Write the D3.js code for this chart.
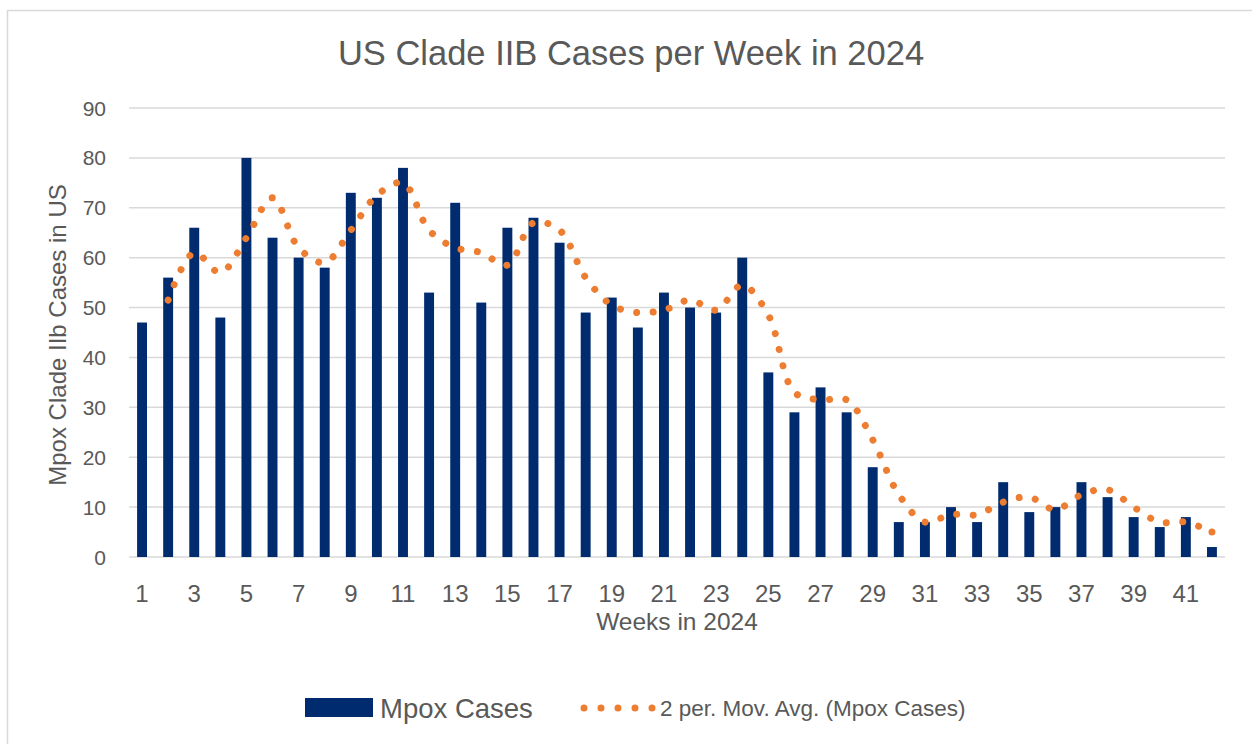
<!DOCTYPE html>
<html>
<head>
<meta charset="utf-8">
<script src="https://cdn.jsdelivr.net/npm/d3@7"></script>
<style>
  html, body { margin: 0; padding: 0; background: #fff; }
  svg { display: block; font-family: "Liberation Sans", Arial, sans-serif; }
</style>
</head>
<body>
<svg id="chart" width="1252" height="744"></svg>
<script>
// weekly counts
var weeks = d3.range(1, 43);
var cases = [47, 56, 66, 48, 80, 64, 60, 58, 73, 72, 78, 53, 71, 51, 66, 68, 63, 49, 52, 46,
             53, 50, 49, 60, 37, 29, 34, 29, 18, 7, 7, 10, 7, 15, 9, 10, 15, 12, 8, 6, 8, 2];
var yTicks = [0, 10, 20, 30, 40, 50, 60, 70, 80, 90];
var xTickLabels = weeks.filter(function (w) { return w % 2 === 1; });

var titleText = "US Clade IIB Cases per Week in 2024";
var xTitle = "Weeks in 2024";
var yTitle = "Mpox Clade IIb Cases in US";
var barLabel = "Mpox Cases";
var trendLabel = "2 per. Mov. Avg. (Mpox Cases)";

var BLUE = "#002c6f", ORANGE = "#ed7d31", GRID = "#d9d9d9", TEXT = "#595959";

var svg = d3.select("#chart");

// chart area border (left/top visible, rest runs off the window)
svg.append("rect")
    .attr("x", 7.5).attr("y", 10.5)
    .attr("width", 1260).attr("height", 760)
    .attr("fill", "none")
    .attr("stroke", GRID)
    .attr("stroke-width", 1.5);

var x = d3.scaleBand()
    .domain(weeks)
    .range([129, 1225])
    .paddingInner(0.62)
    .paddingOuter(0.31);

var y = d3.scaleLinear()
    .domain([0, 90])
    .range([557, 108]);

// gridlines
svg.append("g")
    .selectAll("line")
    .data(yTicks)
    .enter().append("line")
    .attr("x1", 129).attr("x2", 1225)
    .attr("y1", function (d) { return y(d); })
    .attr("y2", function (d) { return y(d); })
    .attr("stroke", GRID)
    .attr("stroke-width", 1.5);

// y tick labels
svg.append("g")
    .selectAll("text")
    .data(yTicks)
    .enter().append("text")
    .attr("x", 106)
    .attr("y", function (d) { return y(d); })
    .attr("dy", "0.36em")
    .attr("text-anchor", "end")
    .attr("fill", TEXT)
    .style("font-size", "21px")
    .text(function (d) { return d; });

// x tick labels (every other week)
svg.append("g")
    .selectAll("text")
    .data(xTickLabels)
    .enter().append("text")
    .attr("x", function (d) { return x(d) + x.bandwidth() / 2; })
    .attr("y", 602)
    .attr("text-anchor", "middle")
    .attr("fill", TEXT)
    .style("font-size", "24px")
    .text(function (d) { return d; });

// bars
svg.append("g")
    .selectAll("rect")
    .data(cases)
    .enter().append("rect")
    .attr("x", function (d, i) { return x(weeks[i]); })
    .attr("width", x.bandwidth())
    .attr("y", function (d) { return y(d); })
    .attr("height", function (d) { return y(0) - y(d); })
    .attr("fill", BLUE);

// 2-period moving average trendline, starts at week 2
var movAvg = [];
for (var i = 1; i < cases.length; i++) {
    movAvg.push({ week: weeks[i], value: (cases[i - 1] + cases[i]) / 2 });
}

var line = d3.line()
    .x(function (d) { return x(d.week) + x.bandwidth() / 2; })
    .y(function (d) { return y(d.value); })
    .curve(d3.curveCatmullRom.alpha(0.5));

var trend = svg.append("path")
    .datum(movAvg)
    .attr("d", line)
    .attr("fill", "none")
    .attr("stroke", ORANGE)
    .attr("stroke-width", 7)
    .attr("stroke-linecap", "round");

// spread the round dots so one lands on each end of the line
var len = trend.node().getTotalLength();
var gap = len / Math.round(len / 16.5);
trend.attr("stroke-dasharray", "0.01 " + (gap - 0.01));

// closing dot on the last average point (the dash pattern drops it)
var last = movAvg[movAvg.length - 1];
svg.append("circle")
    .attr("cx", x(last.week) + x.bandwidth() / 2)
    .attr("cy", y(last.value))
    .attr("r", 3.5)
    .attr("fill", ORANGE);

// title
svg.append("text")
    .attr("x", 631).attr("y", 65)
    .attr("text-anchor", "middle")
    .attr("fill", TEXT)
    .style("font-size", "34.5px")
    .text(titleText);

// axis titles
svg.append("text")
    .attr("x", 677).attr("y", 630)
    .attr("text-anchor", "middle")
    .attr("fill", TEXT)
    .style("font-size", "24.5px")
    .text(xTitle);

svg.append("text")
    .attr("transform", "translate(66,335) rotate(-90)")
    .attr("text-anchor", "middle")
    .attr("fill", TEXT)
    .style("font-size", "24px")
    .text(yTitle);

// legend
var legend = svg.append("g");
legend.append("rect")
    .attr("x", 305).attr("y", 698)
    .attr("width", 68).attr("height", 19)
    .attr("fill", BLUE);
legend.append("text")
    .attr("x", 380).attr("y", 708)
    .attr("dy", "0.36em")
    .attr("fill", TEXT)
    .style("font-size", "27.5px")
    .text(barLabel);
legend.append("line")
    .attr("x1", 584).attr("x2", 652.5)
    .attr("y1", 708).attr("y2", 708)
    .attr("stroke", ORANGE)
    .attr("stroke-width", 7)
    .attr("stroke-linecap", "round")
    .attr("stroke-dasharray", "0 17");
legend.append("text")
    .attr("x", 660).attr("y", 708)
    .attr("dy", "0.36em")
    .attr("fill", TEXT)
    .style("font-size", "22.5px")
    .text(trendLabel);
</script>
</body>
</html>
